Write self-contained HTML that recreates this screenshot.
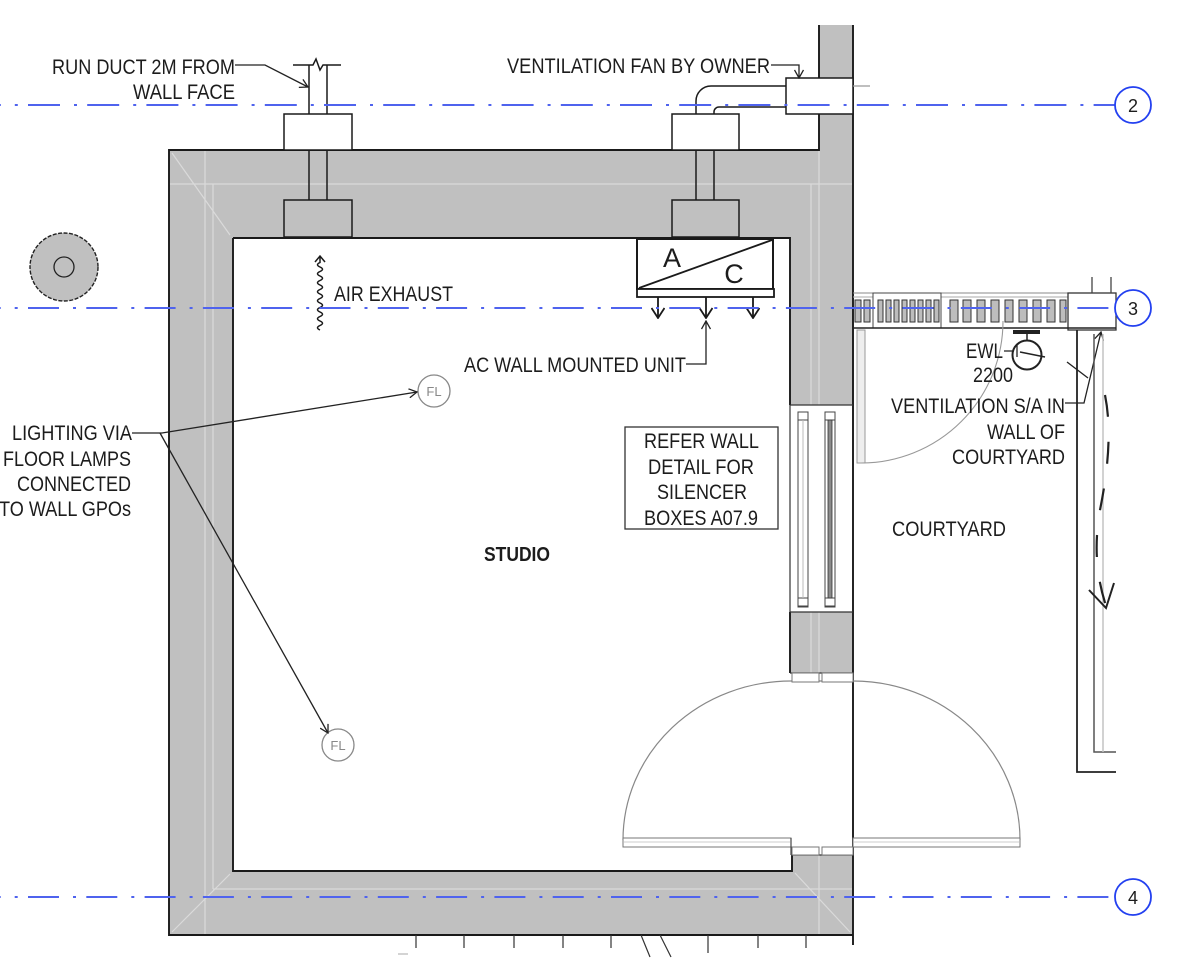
<!DOCTYPE html>
<html><head><meta charset="utf-8"><style>
html,body{margin:0;padding:0;background:#fff;}
svg{display:block;}
text{font-family:"Liberation Sans",Arial,sans-serif;fill:#1c1c1c;}
</style></head><body>
<svg width="1200" height="962" viewBox="0 0 1200 962" xmlns="http://www.w3.org/2000/svg">
<defs>
<marker id="ar" viewBox="0 0 10 10" refX="9" refY="5" markerWidth="10" markerHeight="10" markerUnits="userSpaceOnUse" orient="auto"><path d="M1,0.5 L9,5 L1,9.5" fill="none" stroke="#222" stroke-width="1.3"/></marker>
<marker id="ar2" viewBox="0 0 12 14" refX="11" refY="7" markerWidth="12" markerHeight="14" markerUnits="userSpaceOnUse" orient="auto"><path d="M1,0.5 L11,7 L1,13.5" fill="none" stroke="#1a1a1a" stroke-width="1.8"/></marker>
</defs>
<rect width="1200" height="962" fill="#fff"/>

<!-- walls gray -->
<g fill="#c0c0c0">
<rect x="169" y="150" width="684" height="88"/>
<rect x="169" y="150" width="64" height="785"/>
<rect x="169" y="871" width="684" height="64"/>
<rect x="790" y="150" width="63" height="255"/>
<rect x="790" y="612" width="63" height="61"/>
<rect x="792" y="855" width="61" height="80"/>
<rect x="819" y="25" width="34" height="53"/>
<rect x="819" y="114" width="34" height="36"/>
</g>
<!-- wall layer light lines -->
<g stroke="#dadada" stroke-width="1.2" fill="none">
<path d="M205,150 V935 M213,184 V889 M169,184 H853 M213,889 H853 M819,150 V405 M819,612 V673 M819,855 V935 M811,184 V405 M811,612 V673 M172,153 L230,235 M172,932 L230,874 M850,932 L795,873"/>
</g>

<!-- building outlines -->
<g stroke="#1a1a1a" stroke-width="1.9" fill="none">
<path d="M819,25 V78 M819,114 V150 H169 V935 H853 M853,25 V945"/>
<path d="M233,238 H790 V405 M790,612 V673 M233,238 V871 H792 V855"/>
</g>
<g stroke="#333" stroke-width="1.2" fill="none">
<path d="M790,405 H853 M790,612 H853 M790,405 V612 M790,673 H853 M792,855 H853"/>
</g>

<!-- window -->
<g stroke="#444" stroke-width="1" fill="#fff">
<rect x="798" y="412" width="10" height="195"/>
<rect x="825" y="412" width="10" height="195"/>
<rect x="798" y="412" width="10" height="8"/>
<rect x="798" y="598" width="10" height="8"/>
<rect x="825" y="412" width="10" height="8"/>
<rect x="825" y="598" width="10" height="8"/>
</g>
<rect x="828" y="420" width="4" height="178" fill="#8a8a8a" stroke="#333" stroke-width="0.8"/>
<line x1="803" y1="420" x2="803" y2="598" stroke="#bbb" stroke-width="1"/>

<!-- door -->
<path d="M623,840 A168,159 0 0 1 791,681 H853 A167,159 0 0 1 1020,840" fill="none" stroke="#888" stroke-width="1.2"/>
<g fill="#fff" stroke="#777" stroke-width="1">
<rect x="623" y="838" width="168" height="9"/>
<rect x="853" y="838" width="167" height="9"/>
<rect x="792" y="673" width="27" height="9"/>
<rect x="822" y="673" width="31" height="9"/>
<rect x="792" y="847" width="27" height="8"/>
<rect x="822" y="847" width="31" height="8"/>
</g>
<path d="M624,842 H790 M854,842 H1019" stroke="#ccc" stroke-width="1"/>
<path d="M791,838 V855" stroke="#444" stroke-width="1.2"/>

<!-- ducts -->
<g stroke="#1a1a1a" stroke-width="1.5">
<rect x="284" y="114" width="68" height="36" fill="#fff"/>
<rect x="672" y="114" width="67" height="36" fill="#fff"/>
<rect x="284" y="200" width="68" height="37" fill="#c0c0c0"/>
<rect x="672" y="200" width="67" height="37" fill="#c0c0c0"/>
<path d="M309,150 V200 M327,150 V200 M696,150 V200 M714,150 V200" fill="none"/>
<path d="M309,114 V65 M327,114 V65 M293,65 H313 L316,59 L320,70 L323,65 H341" fill="none"/>
<rect x="786" y="78" width="67" height="36" fill="#fff"/>
<path d="M696,114 V101 A15,15 0 0 1 711,86 H786 M714,114 V112 A5,5 0 0 1 719,107 H786" fill="none"/>
</g>
<line x1="853" y1="86" x2="870" y2="86" stroke="#999" stroke-width="1.2"/>

<!-- AC unit -->
<rect x="637" y="239" width="136" height="50" fill="#fff" stroke="#1a1a1a" stroke-width="2"/>
<rect x="637" y="289" width="137" height="8" fill="#fff" stroke="#1a1a1a" stroke-width="1.8"/>
<line x1="639" y1="288" x2="772" y2="240" stroke="#1a1a1a" stroke-width="1.8"/>
<text x="672" y="267" font-size="27" text-anchor="middle">A</text>
<text x="734" y="283" font-size="27" text-anchor="middle">C</text>
<g stroke="#1a1a1a" stroke-width="1.8" fill="none">
<path d="M658,297 V318" marker-end="url(#ar2)"/>
<path d="M706,297 V318" marker-end="url(#ar2)"/>
<path d="M753,297 V318" marker-end="url(#ar2)"/>
</g>

<!-- air exhaust squiggle -->
<path d="M320,330 Q315,327.75 320,325.5 Q325,323.25 320,321 Q315,318.75 320,316.5 Q325,314.25 320,312 Q315,309.75 320,307.5 Q325,305.25 320,303 Q315,300.75 320,298.5 Q325,296.25 320,294 Q315,291.75 320,289.5 Q325,287.25 320,285 Q315,282.75 320,280.5 Q325,278.25 320,276 Q315,273.75 320,271.5 Q325,269.25 320,267 Q315,264.75 320,262.5 L320,257 M315,262 L320,256 L325,262" fill="none" stroke="#1a1a1a" stroke-width="1.5"/>

<!-- round column -->
<circle cx="64" cy="267" r="34" fill="#c0c0c0" stroke="#222" stroke-width="1.4" stroke-dasharray="4 1.5"/>
<circle cx="64" cy="267" r="10" fill="#c0c0c0" stroke="#222" stroke-width="1.3"/>

<!-- FL lamps -->
<g fill="#fff" stroke="#888" stroke-width="1.3">
<circle cx="434" cy="391" r="16"/>
<circle cx="338" cy="745" r="16"/>
</g>
<text x="434" y="396" font-size="13" text-anchor="middle" style="fill:#888">FL</text>
<text x="338" y="750" font-size="13" text-anchor="middle" style="fill:#888">FL</text>

<!-- leaders -->
<g stroke="#222" stroke-width="1.3" fill="none">
<path d="M235,65 H265 L308,87" marker-end="url(#ar)"/>
<path d="M771,65 H799 V78" marker-end="url(#ar)"/>
<path d="M132,433 H162 L417,392" marker-end="url(#ar)"/>
<path d="M160,433 L328,733" marker-end="url(#ar)"/>
<path d="M686,364 H706 V321" marker-end="url(#ar)"/>
<path d="M1065,403 H1084 L1101,332" marker-end="url(#ar)"/>
<path d="M1067,362 L1088,378"/>
<path d="M1004,351 H1014 M1017,345 V357"/>
</g>

<!-- refer box -->
<rect x="625" y="427" width="153" height="102" fill="#fff" stroke="#333" stroke-width="1.3"/>

<!-- courtyard beam -->
<g stroke="#333" stroke-width="1">
<path d="M853,293 H1116" stroke="#888"/>
<path d="M853,297 H1068" stroke="#aaa"/>
<rect x="873" y="293" width="68" height="35" fill="#fff" stroke="#444"/>
<g fill="#bdbdbd">
<rect x="855" y="300" width="6" height="22"/>
<rect x="864" y="300" width="6" height="22"/>
<rect x="878" y="300" width="5" height="22"/>
<rect x="886" y="300" width="5" height="22"/>
<rect x="894" y="300" width="5" height="22"/>
<rect x="902" y="300" width="5" height="22"/>
<rect x="910" y="300" width="5" height="22"/>
<rect x="918" y="300" width="5" height="22"/>
<rect x="926" y="300" width="5" height="22"/>
<rect x="934" y="300" width="5" height="22"/>
<rect x="950" y="300" width="8" height="22"/>
<rect x="963" y="300" width="8" height="22"/>
<rect x="977" y="300" width="8" height="22"/>
<rect x="991" y="300" width="8" height="22"/>
<rect x="1005" y="300" width="8" height="22"/>
<rect x="1019" y="300" width="8" height="22"/>
<rect x="1033" y="300" width="8" height="22"/>
<rect x="1047" y="300" width="8" height="22"/>
<rect x="1060" y="300" width="6" height="22"/>
</g>
<rect x="1068" y="293" width="48" height="37" fill="#fff" stroke="#333" stroke-width="1.3"/>
<path d="M853,328 H1116" stroke="#222" stroke-width="1.6"/>
<path d="M1092,277 V293 M1111,277 V293" stroke="#444" stroke-width="1.3"/>
</g>
<rect x="857" y="330" width="8" height="133" fill="#eee" stroke="#999" stroke-width="1"/>
<path d="M861,463 A142,142 0 0 0 1003,321" fill="none" stroke="#999" stroke-width="1.1"/>

<!-- EWL -->
<rect x="1013" y="330" width="27" height="4" fill="#222"/>
<path d="M1027,334 V341" stroke="#222" stroke-width="1.5"/>
<circle cx="1027" cy="355" r="14.5" fill="none" stroke="#222" stroke-width="2"/>
<path d="M1020,352 L1045,357" stroke="#222" stroke-width="1.5"/>

<!-- courtyard walls -->
<path d="M1077,330 V772 H1116" fill="none" stroke="#222" stroke-width="1.8"/>
<path d="M1094,334 V752 H1116" fill="none" stroke="#555" stroke-width="1.5"/>
<path d="M1103,334 V752" fill="none" stroke="#c4c4c4" stroke-width="1.5"/>
<path d="M1105,395 C1112,430 1108,470 1100,510 C1094,545 1096,575 1106,606" fill="none" stroke="#222" stroke-width="2.2" stroke-dasharray="22 25"/>
<path d="M1089,590 L1106,608 L1114,583" fill="none" stroke="#222" stroke-width="2"/>

<!-- bottom ticks -->
<path d="M416,935 V948 M464,935 V948 M514,935 V948 M563,935 V948 M611,935 V948 M708,935 V953 M758,935 V948 M806,935 V948 M641,935 L650,957 M660,935 L671,957" stroke="#333" stroke-width="1.2"/>
<line x1="398" y1="954" x2="408" y2="954" stroke="#aaa" stroke-width="1"/>

<!-- grid lines -->
<g stroke="#4f63ee" stroke-width="2" fill="none">
<line x1="0" y1="105" x2="1115" y2="105" stroke-dasharray="32 14 3 10.2" stroke-dashoffset="31.2"/>
<line x1="0" y1="308" x2="1115" y2="308" stroke-dasharray="31 14 3 10.3" stroke-dashoffset="30.3"/>
<line x1="0" y1="897" x2="1115" y2="897" stroke-dasharray="31 14 3 10.3" stroke-dashoffset="30.3"/>
</g>
<g fill="#fff" stroke="#2340f0" stroke-width="1.8">
<circle cx="1133" cy="105" r="18"/>
<circle cx="1133" cy="308" r="18"/>
<circle cx="1133" cy="897" r="18"/>
</g>
<g font-size="18" text-anchor="middle">
<text x="1133" y="112">2</text>
<text x="1133" y="315">3</text>
<text x="1133" y="904">4</text>
</g>

<!-- labels -->
<g font-size="21">
<text x="52" y="74" textLength="183" lengthAdjust="spacingAndGlyphs">RUN DUCT 2M FROM</text>
<text x="133" y="99" textLength="102" lengthAdjust="spacingAndGlyphs">WALL FACE</text>
<text x="507" y="73" textLength="263" lengthAdjust="spacingAndGlyphs">VENTILATION FAN BY OWNER</text>
<text x="334" y="301" textLength="119" lengthAdjust="spacingAndGlyphs">AIR EXHAUST</text>
<text x="464" y="372" textLength="222" lengthAdjust="spacingAndGlyphs">AC WALL MOUNTED UNIT</text>
<text x="12" y="440" textLength="120" lengthAdjust="spacingAndGlyphs">LIGHTING VIA</text>
<text x="3" y="466" textLength="128" lengthAdjust="spacingAndGlyphs">FLOOR LAMPS</text>
<text x="17" y="491" textLength="114" lengthAdjust="spacingAndGlyphs">CONNECTED</text>
<text x="-1" y="516" textLength="132" lengthAdjust="spacingAndGlyphs">TO WALL GPOs</text>
<text x="644" y="448" textLength="115" lengthAdjust="spacingAndGlyphs">REFER WALL</text>
<text x="648" y="474" textLength="106" lengthAdjust="spacingAndGlyphs">DETAIL FOR</text>
<text x="657" y="499" textLength="90" lengthAdjust="spacingAndGlyphs">SILENCER</text>
<text x="644" y="525" textLength="114" lengthAdjust="spacingAndGlyphs">BOXES A07.9</text>
<text x="484" y="561" textLength="66" lengthAdjust="spacingAndGlyphs" font-weight="bold" font-size="20">STUDIO</text>
<text x="892" y="536" textLength="114" lengthAdjust="spacingAndGlyphs">COURTYARD</text>
<text x="966" y="358" textLength="37" lengthAdjust="spacingAndGlyphs">EWL</text>
<text x="973" y="382" textLength="40" lengthAdjust="spacingAndGlyphs">2200</text>
<text x="891" y="413" textLength="174" lengthAdjust="spacingAndGlyphs">VENTILATION S/A IN</text>
<text x="987" y="439" textLength="78" lengthAdjust="spacingAndGlyphs">WALL OF</text>
<text x="952" y="464" textLength="113" lengthAdjust="spacingAndGlyphs">COURTYARD</text>
</g>
</svg>
</body></html>
